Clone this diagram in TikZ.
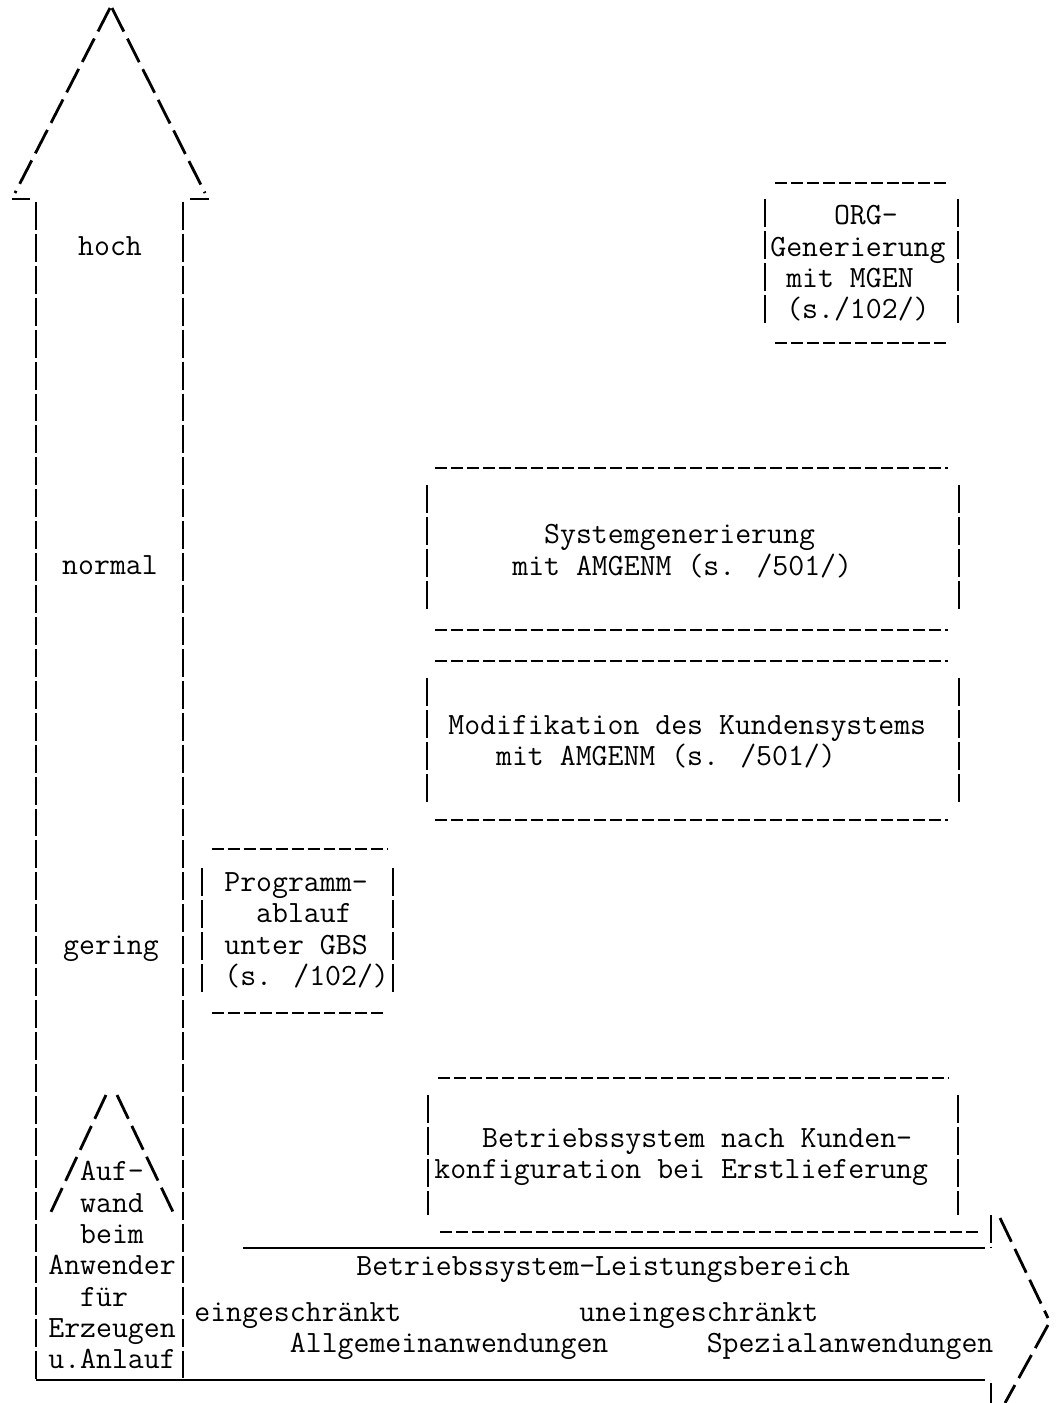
\documentclass[tikz,border=0pt]{standalone}
\usepackage{tikz}

% typewriter text and indentation by character cells
\newcommand{\tw}{\ttfamily\fontsize{17.6}{17.86}\selectfont}
\newcommand{\ind}[1]{\hspace*{#1\fontcharwd\font`x}}

\begin{document}
\begin{tikzpicture}[x=0.02cm, y=-0.02cm,
  hyph/.style={line width=1.6pt, dash pattern=on 6.8pt off 2.27pt},
  bar/.style={line width=1.6pt, dash pattern=on 15.9pt off 2.27pt},
  slash/.style={line width=1.6pt, dash pattern=on 15pt off 4.5pt},
  rule/.style={line width=1.4pt},
  txt/.style={font=\tw, inner sep=0pt, align=left, anchor=north west},
  lbl/.style={font=\tw, inner sep=0pt, anchor=base}]
\useasboundingbox (0,0) rectangle (1056,1403);

% Aufwand arrow (vertical)
\draw[slash] (110,8) -- (15,193);
\draw[slash] (112,8) -- (205,193);
\draw[rule] (12,199) -- (30,199);
\draw[rule] (190,199) -- (209,199);
\draw[bar] (36,202) -- (36,1380);
\draw[bar] (183,202) -- (183,1378);

\node[lbl] (hoch) at (110,255) {hoch};
\node[lbl] (normal) at (110,574) {normal};
\node[lbl] (gering) at (111,954) {gering};

% small arrow inside the shaft
\draw[slash] (106,1095) -- (50,1214);
\draw[slash] (117,1095) -- (174,1214);
\node[txt] (aufwand) at (48,1161) {\ind{2}Auf-\\\ind{2}wand\\\ind{2}beim\\Anwender\\\ind{2}f\"ur\\Erzeugen\\u.Anlauf};

% Leistungsbereich arrow (horizontal)
\draw[rule] (243,1248) -- (985,1248);
\draw[rule] (36,1380) -- (985,1380);
\draw[bar] (991,1215) -- (991,1247);
\draw[bar] (991,1383) -- (991,1403);
\draw[slash] (1000,1218) -- (1048,1318);
\draw[slash] (1048,1325) -- (1005,1403);

\node[txt] (leistung) at (356,1256) {Betriebssystem-Leistungsbereich};
\node[txt] (einge) at (194,1302) {eingeschr\"ankt\\\ind{6}Allgemeinanwendungen};
\node[txt] (uneinge) at (579,1302) {uneingeschr\"ankt\\\ind{8}Spezialanwendungen};

% ORG-Generierung
\draw[hyph] (775,183) -- (948,183);
\draw[hyph] (775,343) -- (948,343);
\draw[bar] (765,199) -- (765,325);
\draw[bar] (958,199) -- (958,325);
\node[txt] (orggen) at (770,205) {\ind{4}ORG-\\Generierung\\\ind{1}mit MGEN\\\ind{1}(s./102/)};

% Systemgenerierung
\draw[hyph] (435,468) -- (948,468);
\draw[hyph] (435,630) -- (948,630);
\draw[bar] (427,485) -- (427,612);
\draw[bar] (959,485) -- (959,612);
\node[txt] (sysgen) at (512,524) {\ind{2}Systemgenerierung\\mit AMGENM (s. /501/)};

% Modifikation
\draw[hyph] (435,661) -- (948,661);
\draw[hyph] (435,820) -- (948,820);
\draw[bar] (427,678) -- (427,802);
\draw[bar] (959,678) -- (959,802);
\node[txt] (modif) at (448,715) {Modifikation des Kundensystems\\\ind{3}mit AMGENM (s. /501/)};

% Programmablauf
\draw[hyph] (212,849) -- (388,849);
\draw[hyph] (212,1013) -- (386,1013);
\draw[bar] (202,868) -- (202,992);
\draw[bar] (393,868) -- (393,992);
\node[txt] (progablauf) at (224,872) {Programm-\\\ind{2}ablauf\\unter GBS\\(s. /102/)};

% Erstlieferung
\draw[hyph] (438,1078) -- (948,1078);
\draw[hyph] (440,1232) -- (978,1232);
\draw[bar] (428,1095) -- (428,1215);
\draw[bar] (958,1095) -- (958,1215);
\node[txt] (erstlief) at (434,1128) {\ind{3}Betriebssystem nach Kunden-\\konfiguration bei Erstlieferung};

\end{tikzpicture}
\end{document}
